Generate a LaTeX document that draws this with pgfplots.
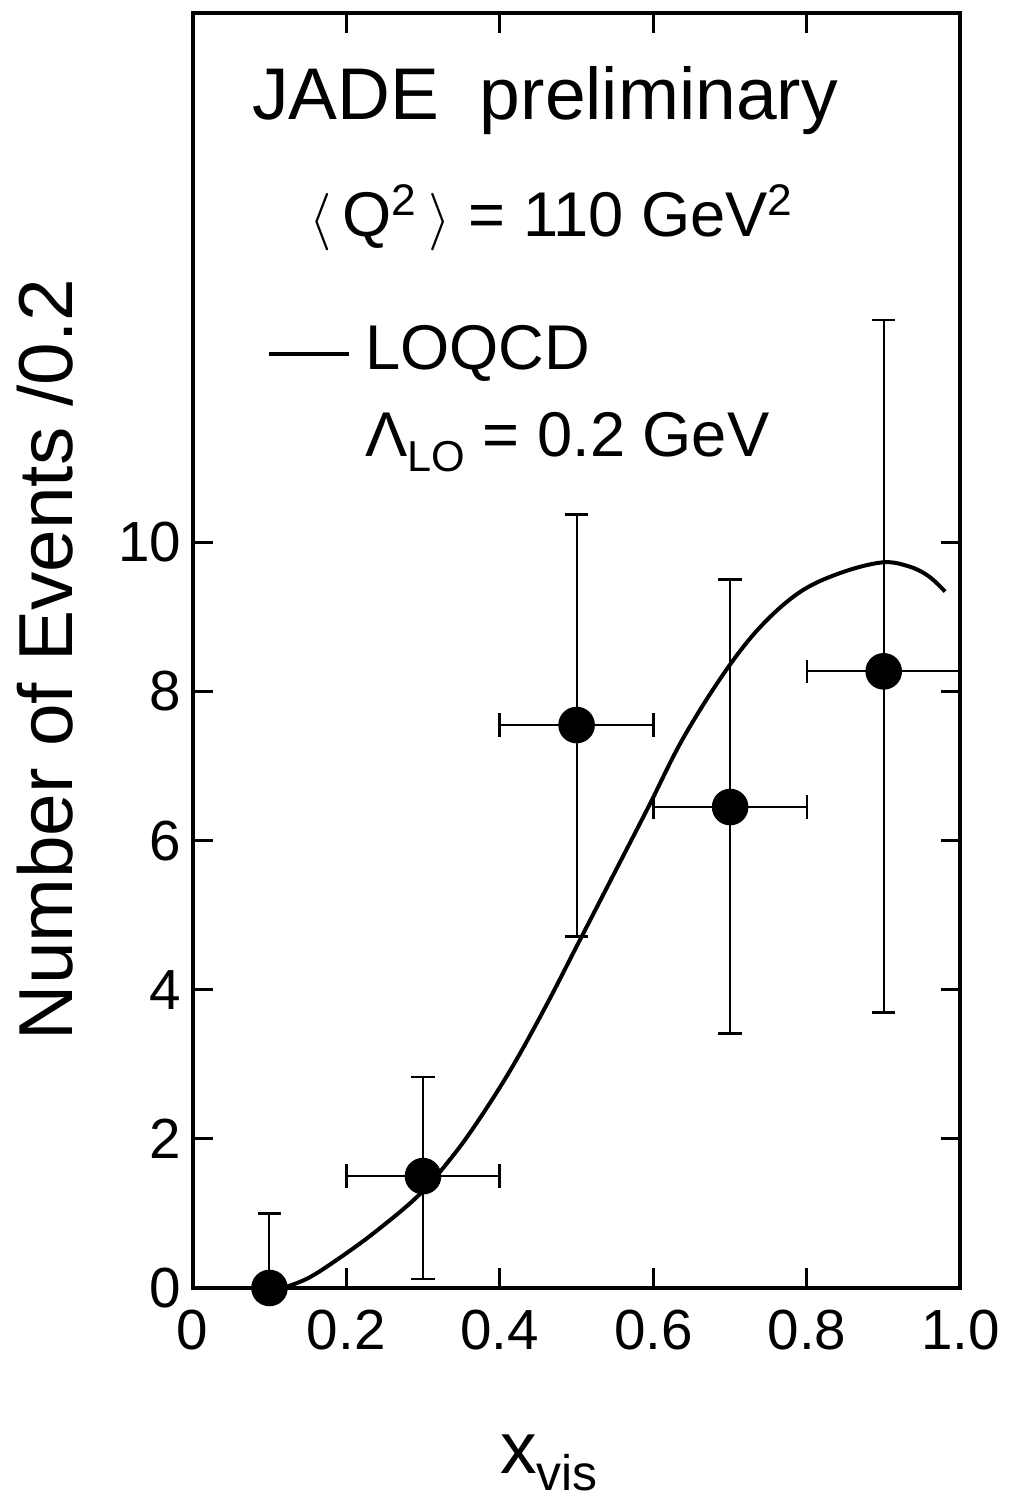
\documentclass[border=0pt]{standalone}
\usepackage{pgfplots}
\usepackage{pgfplotstable}
\pgfplotsset{compat=1.18}
\usepackage{fontspec}
\setmainfont{Liberation Sans}

\pgfplotstableread{
x y ex eym eyp
0.1 0.00 0.0 0.00 1.00
0.3 1.50 0.1 1.38 1.33
0.5 7.55 0.1 2.84 2.82
0.7 6.45 0.1 3.04 3.05
0.9 8.27 0.1 4.58 4.71
}\datatable

\pgfplotstableread{
x y
0.117 0.00
0.15 0.13
0.191 0.40
0.24 0.77
0.295 1.25
0.338 1.76
0.373 2.26
0.416 2.96
0.460 3.78
0.503 4.64
0.546 5.50
0.594 6.46
0.637 7.34
0.689 8.20
0.737 8.84
0.789 9.32
0.841 9.58
0.897 9.73
0.932 9.68
0.958 9.55
0.980 9.34
}\curvetable

\begin{document}
\begin{tikzpicture}
\path (-57.9pt,-63.6pt) rectangle (238.5pt,387pt);
\begin{axis}[
  scale only axis,
  width=230.7pt, height=383.1pt,
  xmin=0, xmax=1, ymin=0, ymax=17.1,
  axis line style={line width=1.2pt},
  tick align=inside,
  major tick length=6pt,
  tick style={line width=0.9pt, black},
  xtick={0,0.2,0.4,0.6,0.8,1.0},
  xticklabels={0,0.2,0.4,0.6,0.8,1.0},
  ytick={0,2,4,6,8,10},
  yticklabels={0,2,4,6,8,10},
  /pgf/number format/assume math mode=true,
  ticklabel style={font=\fontsize{17}{17}\selectfont},
  xticklabel style={yshift=-3pt},
  xlabel={\fontsize{22}{22}\selectfont x\raisebox{-0.45ex}{\fontsize{15}{15}\selectfont vis}},
  xlabel style={at={(axis description cs:0.464,-0.137)}, anchor=center},
  ylabel={\fontsize{23}{23}\selectfont Number of Events /0.2},
  ylabel style={at={(axis description cs:-0.192,0.493)}, anchor=center, rotate=0},
  clip=false,
]
\addplot[black, line width=1.2pt, smooth, tension=0.6] table[x=x,y=y] {\curvetable};
\addplot[black, only marks, mark=*, mark size=5.3pt,
  error bars/.cd,
    x dir=both, x explicit,
    y dir=both, y explicit,
    error bar style={line width=0.6pt, black},
    error mark options={rotate=90, mark size=3.5pt, line width=0.8pt, black}]
  table[x=x, y=y, x error=ex, y error plus=eyp, y error minus=eym] {\datatable};

\node[font=\fontsize{22}{22}\selectfont] at (axis cs:0.459,15.93) {JADE\ \ preliminary};
\node[font=\fontsize{19}{19}\selectfont] at (axis cs:0.468,14.35) {$\langle$\,Q\textsuperscript{2}\,$\rangle$ = 110 GeV\textsuperscript{2}};
\draw[line width=1.2pt] (axis cs:0.100,12.52) -- (axis cs:0.204,12.52);
\node[font=\fontsize{19}{19}\selectfont, anchor=west, inner sep=0pt] at (axis cs:0.224,12.53) {LOQCD};
\node[font=\fontsize{19}{19}\selectfont, anchor=west, inner sep=0pt] at (axis cs:0.224,11.35) {Λ\raisebox{-0.45ex}{\fontsize{13}{13}\selectfont LO} = 0.2 GeV};
\end{axis}
\end{tikzpicture}
\end{document}
